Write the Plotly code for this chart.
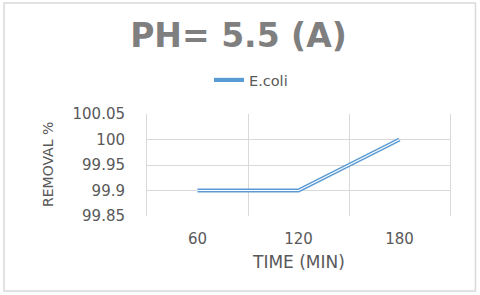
import plotly.graph_objects as go

time_min = [60, 120, 180]
removal = [99.9, 99.9, 100.0]
y_ticks = [99.85, 99.9, 99.95, 100.0, 100.05]
y_tick_labels = ["99.85", "99.9", "99.95", "100", "100.05"]
x_ticks = [60, 120, 180]
x_tick_labels = ["60", "120", "180"]
series_name = "E.coli"

L, R, T, B = 147, 30, 114, 79
W, H = 480, 295
pw, ph = W - L - R, H - T - B

def px_x(p):
    return (p - L) / pw

def px_y(p):
    return (H - B - p) / ph

FONT = "DejaVu Sans"
GRAY = "#595959"
BLUE = "#5b9bd5"
GRID = "#d9d9d9"

fig = go.Figure()
fig.add_trace(go.Scatter(x=time_min, y=removal, mode="lines", name=series_name,
                         line=dict(color=BLUE, width=4.2)))
fig.add_trace(go.Scatter(x=time_min, y=removal, mode="lines", showlegend=False,
                         hoverinfo="skip", line=dict(color="white", width=1.2)))

fig.update_layout(
    width=W, height=H,
    margin=dict(l=L, r=R, t=T, b=B, autoexpand=False),
    paper_bgcolor="white", plot_bgcolor="white",
    font=dict(family=FONT, color=GRAY, size=14),
    title=dict(text="<b>PH= 5.5 (A)</b>", x=238.5 / W, xanchor="center",
               y=1 - 35 / H, yanchor="middle", xref="container", yref="container",
               font=dict(family=FONT, size=33, color="#7f7f7f")),
    legend=dict(x=px_x(209), xanchor="left", y=px_y(80), yanchor="middle",
                orientation="h", font=dict(size=14.5, color=GRAY),
                bgcolor="rgba(0,0,0,0)"),
    showlegend=True,
)

fig.update_xaxes(range=[30, 210], tickmode="array", tickvals=x_ticks,
                 ticktext=x_tick_labels, showgrid=False, zeroline=False,
                 showline=False, ticks="", ticklabelstandoff=12, automargin=False,
                 tickfont=dict(size=15, color=GRAY),
                 minor=dict(tickmode="array", tickvals=[30, 90, 150, 210],
                            showgrid=True, gridcolor=GRID, gridwidth=1, ticks=""))
fig.update_yaxes(range=[99.85, 100.05], tickmode="array", tickvals=y_ticks,
                 ticktext=y_tick_labels, showgrid=True, gridcolor=GRID,
                 gridwidth=1, zeroline=False, showline=True, mirror=True,
                 linecolor=GRID, linewidth=1, ticks="", automargin=False,
                 ticklabelstandoff=18, tickfont=dict(size=15, color=GRAY))

fig.add_annotation(text="TIME (MIN)", xref="paper", yref="paper",
                   x=px_x(298), y=px_y(262), showarrow=False,
                   font=dict(size=17, color=GRAY), xanchor="center", yanchor="middle")
fig.add_annotation(text="REMOVAL %", xref="paper", yref="paper",
                   x=px_x(48), y=px_y(165), showarrow=False, textangle=-90,
                   font=dict(size=14, color=GRAY), xanchor="center", yanchor="middle")

fig.add_shape(type="rect", xref="paper", yref="paper",
              x0=px_x(4), x1=px_x(475.5), y0=px_y(291), y1=px_y(3),
              line=dict(color=GRID, width=1.5), fillcolor="rgba(0,0,0,0)", layer="below")

fig.write_html("out.html", config={"displayModeBar": False},
               post_script="document.body.style.margin='0';")
